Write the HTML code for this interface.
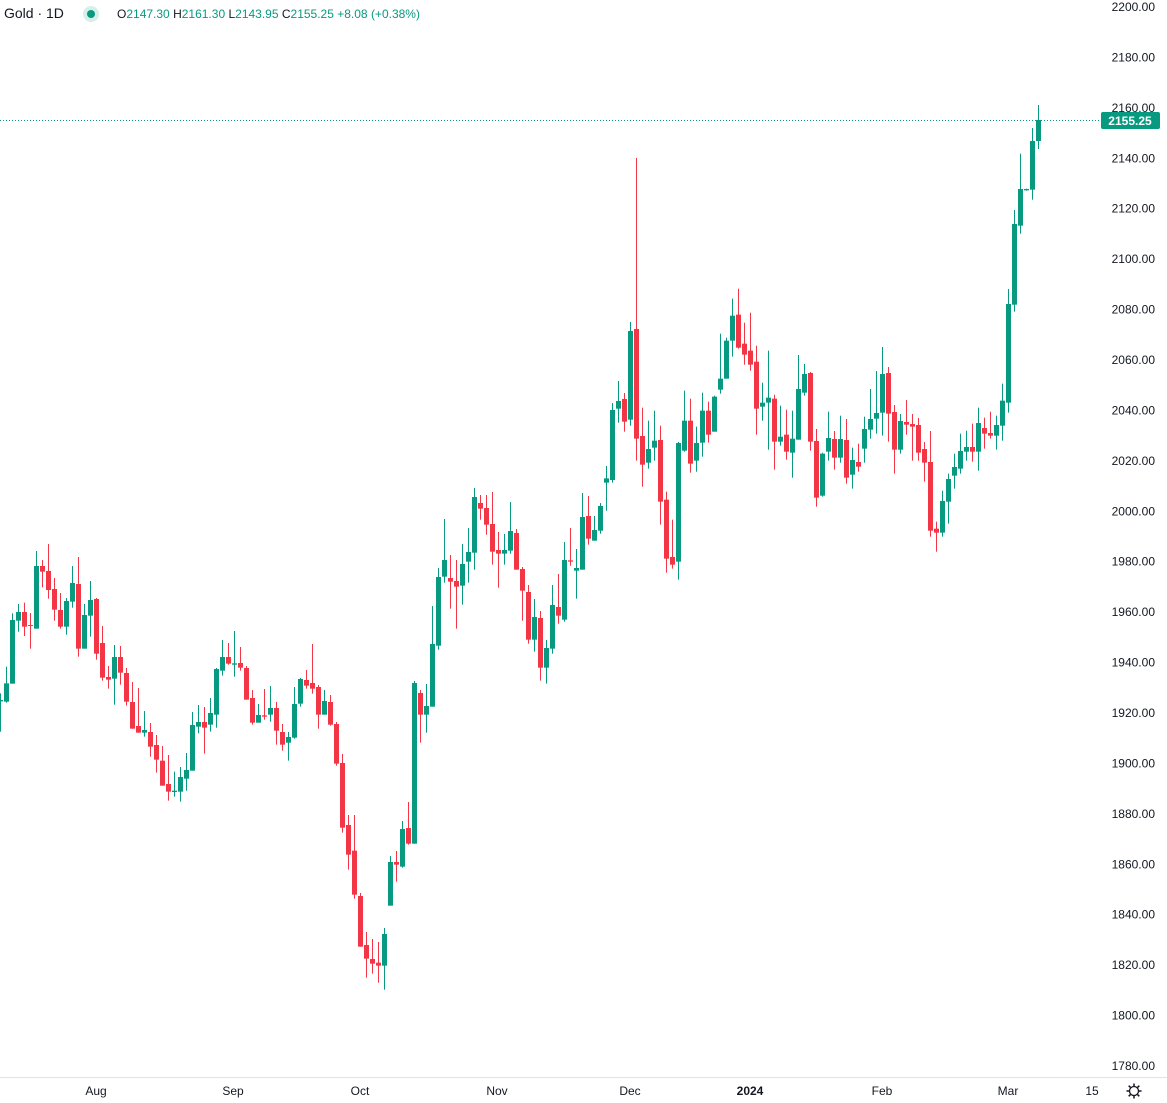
<!DOCTYPE html>
<html><head><meta charset="utf-8">
<style>
html,body{margin:0;padding:0;background:#fff;width:1167px;height:1103px;overflow:hidden;font-family:"Liberation Sans",sans-serif;}
svg{position:absolute;left:0;top:0}
.hdr{position:absolute;left:4px;top:5px;font-size:14px;color:#131722;white-space:nowrap}
.ohlc{position:absolute;left:117px;top:7px;font-size:12px;color:#089981;white-space:nowrap}
.ohlc b{font-weight:normal;color:#131722}
</style></head><body>
<svg id="s" width="1167" height="1103" xmlns="http://www.w3.org/2000/svg"></svg>
<div class="hdr">Gold · 1D</div>
<div style="position:absolute;left:83px;top:6px;width:16px;height:16px;border-radius:8px;background:#d6efe9"></div>
<div style="position:absolute;left:87px;top:10px;width:8px;height:8px;border-radius:4px;background:#089981"></div>
<div class="ohlc"><b>O</b>2147.30 <b>H</b>2161.30 <b>L</b>2143.95 <b>C</b>2155.25 +8.08 (+0.38%)</div>
<script>
var G='#089981',R='#F23645';
var groups=[
[530,[
[0,'g',510,514,490,605],[1,'g',460,515,410,518],[2,'g',270,461,250,461],[3,'g',246,272,222,305],[4,'r',246,290,218,318],[5,'r',285,288,249,356],[6,'g',108,296,63,296],[7,'r',108,125,90,172],[8,'r',123,180,42,206],[9,'r',177,239,144,272],[10,'r',240,290,189,296],[11,'g',213,290,204,314],[12,'g',159,215,108,233],[13,'r',162,356,81,380],[14,'g',255,356,222,356],[15,'g',210,257,153,320],[16,'r',207,371,204,389],[17,'r',339,443,288,452],[18,'r',441,449,408,476],[19,'g',381,446,345,524],[20,'r',381,428,348,464],[21,'r',429,515,414,527],[22,'r',516,596,456,596],[23,'r',588,608,474,608],[24,'g',600,608,543,620],[25,'r',606,650,579,680],[26,'r',645,689,615,728],[27,'r',692,767,648,767],[28,'r',762,785,675,812],[29,'g',782,786,725,800],[30,'g',741,785,711,815],[31,'g',720,746,669,782],[32,'g',585,722,546,722]]],
[620,[
[33,'g',306,320,255,340],[34,'r',306,323,261,401],[35,'g',279,314,234,335],[36,'g',147,284,144,323],[37,'g',111,152,60,167],[38,'r',111,131,69,134],[39,'g',130,134,33,170],[40,'r',129,143,81,152],[41,'r',144,239,138,239],[42,'r',234,308,210,314],[43,'g',285,308,252,308],[44,'r',286,290,207,299],[45,'g',264,284,198,305],[46,'r',264,332,246,374],[47,'r',336,374,312,392],[48,'g',351,368,336,422],[49,'g',252,353,201,356],[50,'g',177,251,174,260],[51,'r',180,197,150,206],[52,'r',189,206,72,221],[53,'r',201,284,195,326],[54,'g',243,284,210,284],[55,'r',246,314,225,317],[56,'r',312,431,306,437],[57,'r',429,623,402,638],[58,'r',615,704,585,749],[59,'r',692,824,585,836],[60,'r',828,980,819,980],[61,'r',975,1016,936,1073],[62,'r',1017,1031,957,1061],[63,'r',1028,1037,966,1088],[64,'g',942,1037,924,1109],[65,'g',726,857,708,857],[66,'r',726,734,693,785]]],
[480,[
[67,'g',1047,1160,1023,1163],[68,'r',1044,1091,966,1094],[69,'g',609,1091,603,1091],[70,'r',639,704,630,788],[71,'g',678,704,612,758],[72,'g',492,680,378,680],[73,'g',291,497,264,509],[74,'g',240,290,117,308],[75,'r',294,305,225,386],[76,'r',303,320,240,446],[77,'g',252,317,192,374],[78,'g',216,245,144,308],[79,'g',51,218,24,269],[80,'r',69,86,45,119],[81,'r',84,134,45,164],[82,'r',132,215,36,254],[83,'r',210,221,156,323],[84,'g',210,221,162,254],[85,'g',153,212,66,221],[86,'r',159,269,147,269],[87,'r',267,332,261,422],[88,'r',336,479,315,491],[89,'g',411,479,357,515],[90,'r',414,563,393,602],[91,'g',504,563,480,611],[92,'g',375,506,315,521],[93,'r',381,407,282,431],[94,'g',240,419,186,425],[95,'r',241,245,144,257],[96,'g',264,272,207,356],[97,'g',111,269,39,269],[98,'r',108,176,48,194],[99,'g',150,182,108,182]]],
[150,[
[100,'g',1068,1142,1059,1151],[101,'g',985,998,948,1082],[102,'g',780,990,759,998],[103,'g',753,776,693,818],[104,'r',747,815,729,845],[105,'g',543,809,516,827],[106,'r',537,866,24,932],[107,'r',858,944,773,1010],[108,'g',897,938,812,956],[109,'g',872,893,782,932],[110,'r',870,1055,827,1124],[111,'r',1049,1226,1025,1268],[112,'r',1221,1244,1109,1256],[113,'g',879,1235,876,1289],[114,'g',812,902,722,905],[115,'r',812,941,746,968],[116,'g',879,932,830,965],[117,'g',782,878,728,920],[118,'r',782,854,755,878],[119,'g',740,845,737,845],[120,'g',686,719,551,731],[121,'g',572,686,563,686],[122,'g',497,572,446,620],[123,'r',494,593,416,596],[124,'r',581,614,518,644],[125,'r',602,644,488,662],[126,'r',635,776,587,854],[127,'g',758,770,698,812],[128,'g',743,758,602,899],[129,'r',746,875,734,959],[130,'g',860,875,767,887],[131,'r',854,905,779,929],[132,'g',866,908,782,983]]],
[280,[
[133,'g',327,479,225,479],[134,'g',282,338,252,347],[135,'r',279,485,276,512],[136,'r',483,653,447,680],[137,'g',521,647,518,650],[138,'g',474,515,395,542],[139,'r',477,533,453,569],[140,'g',477,533,407,548],[141,'r',480,593,417,611],[142,'g',540,584,503,626],[143,'r',546,560,491,575],[144,'g',447,506,410,548],[145,'g',417,449,327,476],[146,'g',399,416,273,461],[147,'g',282,398,201,467],[148,'r',279,401,261,485],[149,'r',396,509,375,581],[150,'g',423,509,402,521],[151,'r',426,434,360,464],[152,'r',432,440,402,542],[153,'r',435,518,414,542],[154,'r',507,548,486,605],[155,'r',546,752,453,770],[156,'r',746,758,725,815],[157,'g',663,758,632,770],[158,'g',597,665,581,731],[159,'g',561,587,521,626],[160,'g',513,566,461,581],[161,'g',501,515,452,542],[162,'r',501,515,431,545],[163,'g',429,515,383,572],[164,'r',444,461,413,506],[165,'r',459,467,395,476],[166,'g',435,467,407,509],[167,'g',362,437,311,482],[168,'g',72,368,27,398]]],
[90,[
[169,'g',402,644,360,665],[170,'g',297,407,191,431],[171,'g',297,301,296,302],[172,'g',153,299,114,329],[173,'g',90,153,45,177]]]
];
var s='';
for(var p=2200;p>=1780;p-=20){var y=7+(2200-p)*2.5214;s+='<text x="1155" y="'+(y+4)+'" text-anchor="end" font-size="12" fill="#131722" font-family="Liberation Sans">'+p.toFixed(2)+'</text>';}
groups.forEach(function(g){var oy=g[0];g[1].forEach(function(c){var x=6*c[0];var col=c[1]=='g'?G:R;
var bt=oy+c[2]/3,bb=oy+c[3]/3,wt=oy+c[4]/3,wb=oy+c[5]/3;if(bb-bt<1)bb=bt+1;
s+='<rect x="'+x+'" y="'+wt+'" width="1" height="'+(wb-wt)+'" fill="'+col+'"/>';
s+='<rect x="'+(x-2)+'" y="'+bt+'" width="5" height="'+(bb-bt)+'" fill="'+col+'"/>';});});
s+='<line x1="0" y1="120.5" x2="1100" y2="120.5" stroke="#089981" stroke-width="1" stroke-dasharray="1,2"/>';
s+='<rect x="1101" y="112" width="59" height="17" rx="2" fill="#089981"/><text x="1130" y="125" text-anchor="middle" font-size="12" font-weight="bold" fill="#fff" font-family="Liberation Sans">2155.25</text>';
s+='<line x1="0" y1="1077.5" x2="1167" y2="1077.5" stroke="#e0e3eb"/>';
var tl=[['Aug',96],['Sep',233],['Oct',360],['Nov',497],['Dec',630],['2024',750],['Feb',882],['Mar',1008],['15',1092]];
tl.forEach(function(t){s+='<text x="'+t[1]+'" y="1095" text-anchor="middle" font-size="12" fill="#131722" font-family="Liberation Sans"'+(t[0]=='2024'?' font-weight="bold"':'')+'>'+t[0]+'</text>';});
s+='<circle cx="1134" cy="1091" r="4.5" fill="none" stroke="#131722" stroke-width="1.3"/>';
for(var a=0;a<8;a++){var an=a*Math.PI/4;s+='<line x1="'+(1134+5*Math.cos(an))+'" y1="'+(1091+5*Math.sin(an))+'" x2="'+(1134+7.5*Math.cos(an))+'" y2="'+(1091+7.5*Math.sin(an))+'" stroke="#131722" stroke-width="1.5"/>';}
document.getElementById('s').innerHTML=s;
</script>
</body></html>
